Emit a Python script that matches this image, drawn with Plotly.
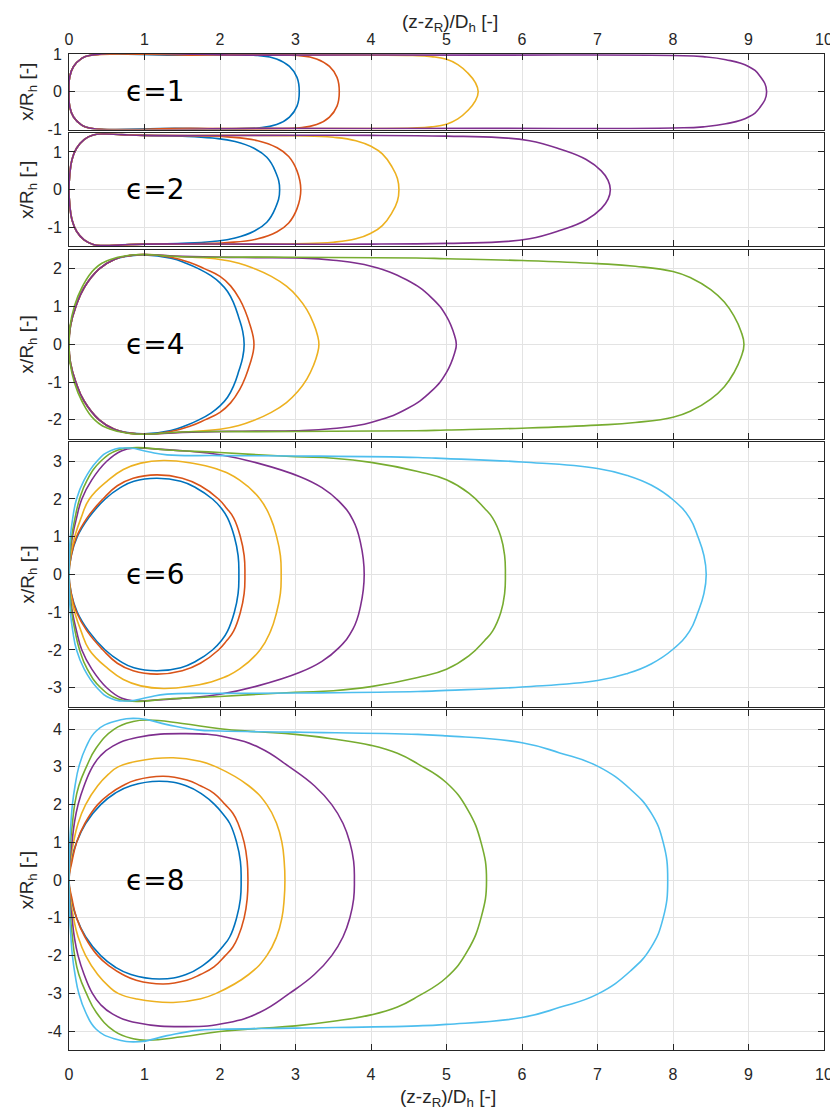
import plotly.graph_objects as go

# ---------------- data ----------------
# upper half of each bubble outline: (z-zR)/Dh , x/Rh ; lower half is the mirror image
EPS_VALUES = [1, 2, 4, 6, 8]
Y_LIMITS = [1, 1.5, 2.5, 3.5, 4.5]
X_TICKS = [0, 1, 2, 3, 4, 5, 6, 7, 8, 9, 10]
X_TICK_LABELS = ["0", "1", "2", "3", "4", "5", "6", "7", "8", "9", "10"]
Y_TICKS = [[-1, 0, 1], [-1, 0, 1], [-2, -1, 0, 1, 2],
           [-3, -2, -1, 0, 1, 2, 3], [-4, -3, -2, -1, 0, 1, 2, 3, 4]]

eps1_blue = [(0, 0), (0.01, 0.4), (0.06, 0.67), (0.16, 0.87), (0.27, 0.96), (1.4, 0.97),
             (2.5, 0.96), (2.75, 0.87), (2.92, 0.67), (3.02, 0.38), (3.05, 0)]
eps1_orange = [(0, 0), (0.01, 0.4), (0.06, 0.67), (0.16, 0.87), (0.27, 0.96), (1.6, 0.97),
               (3.03, 0.96), (3.28, 0.87), (3.45, 0.67), (3.55, 0.38), (3.58, 0)]
eps1_yellow = [(0, 0), (0.01, 0.4), (0.06, 0.67), (0.16, 0.87), (0.27, 0.96), (2.4, 0.97),
               (4.55, 0.96), (4.8, 0.93), (5.0, 0.86), (5.15, 0.72), (5.28, 0.5), (5.38, 0.25), (5.42, 0)]
eps1_purple = [(0, 0), (0.01, 0.4), (0.06, 0.67), (0.16, 0.87), (0.27, 0.96), (2.5, 0.97), (5.5, 0.97),
               (8.0, 0.96), (8.4, 0.93), (8.7, 0.85), (9.0, 0.67), (9.15, 0.42), (9.24, 0)]

eps2_blue = [(0, 0), (0.01, 0.4), (0.04, 0.8), (0.1, 1.1), (0.2, 1.33), (0.32, 1.45), (0.45, 1.48),
             (0.7, 1.46), (1.0, 1.44), (1.5, 1.42), (1.9, 1.37), (2.2, 1.28), (2.45, 1.1), (2.62, 0.86),
             (2.73, 0.5), (2.79, 0)]
eps2_orange = [(0, 0), (0.01, 0.4), (0.04, 0.8), (0.1, 1.1), (0.2, 1.33), (0.32, 1.45), (0.45, 1.48),
               (0.7, 1.46), (1.0, 1.44), (1.6, 1.43), (2.1, 1.4), (2.5, 1.3), (2.75, 1.12), (2.91, 0.88),
               (3.02, 0.5), (3.07, 0)]
eps2_yellow = [(0, 0), (0.01, 0.4), (0.04, 0.8), (0.1, 1.1), (0.2, 1.33), (0.32, 1.45), (0.45, 1.48),
               (0.7, 1.46), (1.0, 1.44), (2.0, 1.44), (3.0, 1.43), (3.5, 1.39), (3.8, 1.3), (4.0, 1.15),
               (4.15, 0.95), (4.28, 0.6), (4.35, 0.3), (4.37, 0)]
eps2_purple = [(0, 0), (0.01, 0.4), (0.04, 0.8), (0.1, 1.1), (0.2, 1.33), (0.32, 1.45), (0.45, 1.48),
               (0.7, 1.46), (1.0, 1.44), (2.5, 1.44), (4.0, 1.44), (5.0, 1.42), (5.7, 1.38), (6.1, 1.3),
               (6.5, 1.08), (6.85, 0.8), (7.05, 0.5), (7.14, 0.25), (7.17, 0)]

eps4_blue = [(0, 0), (0.02, 0.5), (0.09, 1.0), (0.2, 1.5), (0.4, 2.0), (0.6, 2.25), (0.8, 2.34),
             (1.0, 2.37), (1.35, 2.28), (1.55, 2.15), (1.72, 2.0), (1.88, 1.82), (2.0, 1.63),
             (2.1, 1.4), (2.18, 1.1), (2.25, 0.7), (2.3, 0.35), (2.32, 0)]
eps4_orange = [(0, 0), (0.02, 0.5), (0.09, 1.0), (0.2, 1.5), (0.4, 2.0), (0.6, 2.25), (0.8, 2.35),
               (1.0, 2.38), (1.35, 2.31), (1.6, 2.17), (1.8, 2.0), (2.0, 1.8), (2.14, 1.55),
               (2.26, 1.2), (2.34, 0.85), (2.4, 0.5), (2.44, 0.2), (2.45, 0)]
eps4_yellow = [(0, 0), (0.02, 0.5), (0.09, 1.0), (0.2, 1.5), (0.4, 2.0), (0.6, 2.25), (0.8, 2.35),
               (1.0, 2.38), (1.5, 2.32), (2.0, 2.25), (2.25, 2.15), (2.44, 2.02), (2.68, 1.8),
               (2.88, 1.54), (3.03, 1.25), (3.15, 0.92), (3.24, 0.55), (3.29, 0.25), (3.31, 0)]
eps4_purple = [(0, 0), (0.02, 0.5), (0.09, 1.0), (0.2, 1.5), (0.4, 2.0), (0.6, 2.25), (0.8, 2.35),
               (1.0, 2.38), (1.5, 2.33), (2.3, 2.3), (3.0, 2.29), (3.5, 2.23), (4.0, 2.07), (4.47, 1.71),
               (4.8, 1.24), (5.0, 0.74), (5.11, 0.21), (5.13, 0)]
eps4_green = [(0, 0), (0.015, 0.5), (0.07, 1.0), (0.17, 1.5), (0.34, 2.0), (0.55, 2.25), (0.8, 2.36),
              (1.0, 2.38), (1.5, 2.32), (2.5, 2.31), (4.6, 2.29), (5.0, 2.27), (6.0, 2.22), (7.0, 2.14),
              (7.5, 2.07), (8.0, 1.93), (8.24, 1.76), (8.5, 1.45), (8.68, 1.12), (8.81, 0.74),
              (8.9, 0.35), (8.94, 0)]

eps6_blue = [(0, 0), (0.03, 0.5), (0.11, 1.0), (0.26, 1.5), (0.48, 2.0), (0.68, 2.3), (0.86, 2.47),
             (1.16, 2.55), (1.48, 2.47), (1.68, 2.3), (1.9, 2.0), (2.02, 1.75), (2.1, 1.5),
             (2.19, 1.0), (2.24, 0.5), (2.25, 0)]
eps6_orange = [(0, 0), (0.03, 0.5), (0.1, 1.0), (0.24, 1.5), (0.45, 2.0), (0.64, 2.35), (0.85, 2.55),
               (1.16, 2.64), (1.5, 2.55), (1.74, 2.35), (1.98, 2.0), (2.09, 1.75), (2.18, 1.5),
               (2.27, 1.0), (2.32, 0.5), (2.33, 0)]
eps6_yellow = [(0, 0), (0.02, 0.5), (0.075, 1.0), (0.16, 1.5), (0.27, 2.0), (0.52, 2.5), (0.72, 2.78),
               (0.95, 2.95), (1.25, 3.02), (1.6, 2.96), (1.95, 2.8), (2.26, 2.5), (2.53, 2.0),
               (2.67, 1.5), (2.75, 1.0), (2.8, 0.5), (2.81, 0)]
eps6_purple = [(0, 0), (0.01, 0.5), (0.045, 1.0), (0.1, 1.5), (0.17, 2.0), (0.3, 2.5), (0.5, 3.0),
               (0.7, 3.28), (0.88, 3.35), (1.1, 3.33), (1.55, 3.27), (2.0, 3.17), (2.5, 2.95),
               (3.06, 2.59), (3.35, 2.3), (3.57, 1.95), (3.76, 1.45), (3.86, 0.85), (3.91, 0)]
eps6_green = [(0, 0), (0.01, 0.5), (0.035, 1.0), (0.08, 1.5), (0.14, 2.0), (0.24, 2.5), (0.42, 3.0),
              (0.65, 3.3), (0.9, 3.36), (1.3, 3.3), (2.0, 3.23), (3.0, 3.12), (3.5, 3.08), (4.0, 2.97),
              (4.62, 2.73), (5.0, 2.51), (5.3, 2.15), (5.5, 1.76), (5.61, 1.5), (5.72, 1.0),
              (5.77, 0.5), (5.78, 0)]
eps6_cyan = [(0, 0), (0.005, 0.5), (0.018, 1.0), (0.05, 1.5), (0.1, 2.0), (0.2, 2.5), (0.37, 3.0),
             (0.55, 3.28), (0.8, 3.35), (1.05, 3.25), (1.3, 3.17), (2.0, 3.15), (3.0, 3.14),
             (4.62, 3.1), (5.0, 3.07), (6.0, 2.98), (7.0, 2.81), (7.4, 2.62), (7.71, 2.37), (8.0, 1.98),
             (8.22, 1.5), (8.33, 1.0), (8.41, 0.5), (8.44, 0)]

eps8_blue = [(0, 0), (0.03, 0.5), (0.1, 1.0), (0.22, 1.5), (0.42, 2.0), (0.61, 2.3), (0.82, 2.5),
             (1.2, 2.62), (1.55, 2.5), (1.78, 2.25), (1.93, 2.0), (2.04, 1.75), (2.13, 1.5),
             (2.22, 1.0), (2.27, 0.5), (2.28, 0)]
eps8_orange = [(0, 0), (0.04, 0.5), (0.1, 1.0), (0.21, 1.5), (0.38, 2.0), (0.55, 2.3), (0.71, 2.5),
               (0.89, 2.65), (1.25, 2.75), (1.56, 2.65), (1.74, 2.5), (1.92, 2.3), (2.07, 2.0),
               (2.17, 1.77), (2.24, 1.5), (2.32, 1.0), (2.36, 0.5), (2.37, 0)]
eps8_yellow = [(0, 0), (0.02, 0.5), (0.06, 1.0), (0.12, 1.5), (0.22, 2.0), (0.38, 2.5), (0.52, 2.8),
               (0.65, 3.0), (0.9, 3.15), (1.38, 3.24), (1.73, 3.15), (1.95, 3.0), (2.38, 2.5),
               (2.62, 2.0), (2.75, 1.5), (2.82, 1.0), (2.85, 0.5), (2.86, 0)]
eps8_purple = [(0, 0), (0.01, 0.5), (0.04, 1.0), (0.07, 1.5), (0.12, 2.0), (0.2, 2.5), (0.31, 3.0),
               (0.42, 3.3), (0.58, 3.55), (0.9, 3.78), (1.55, 3.88), (2.1, 3.78), (2.53, 3.5),
               (2.92, 3.0), (3.25, 2.5), (3.48, 2.0), (3.63, 1.5), (3.72, 1.0), (3.77, 0.5), (3.78, 0)]
eps8_green = [(0, 0), (0.005, 0.5), (0.02, 1.0), (0.045, 1.5), (0.075, 2.0), (0.13, 2.5), (0.23, 3.0),
              (0.36, 3.5), (0.6, 4.0), (0.85, 4.2), (1.05, 4.24), (1.5, 4.15), (2.0, 4.01), (2.5, 3.93),
              (3.0, 3.86), (3.5, 3.74), (4.0, 3.57), (4.35, 3.36), (4.62, 3.08), (5.0, 2.58),
              (5.28, 1.87), (5.46, 0.98), (5.53, 0)]
eps8_cyan = [(0, 0), (0.003, 0.5), (0.01, 1.0), (0.025, 1.5), (0.045, 2.0), (0.08, 2.5), (0.13, 3.0),
             (0.22, 3.5), (0.36, 3.95), (0.6, 4.2), (0.93, 4.28), (1.3, 4.12), (1.7, 3.98), (2.0, 3.95),
             (3.0, 3.92), (4.62, 3.86), (5.0, 3.82), (6.0, 3.64), (6.5, 3.37), (7.0, 3.02),
             (7.44, 2.4), (7.71, 1.78), (7.87, 1.0), (7.93, 0)]

PANELS = [
    [eps1_blue, eps1_orange, eps1_yellow, eps1_purple],
    [eps2_blue, eps2_orange, eps2_yellow, eps2_purple],
    [eps4_blue, eps4_orange, eps4_yellow, eps4_purple, eps4_green],
    [eps6_blue, eps6_orange, eps6_yellow, eps6_purple, eps6_green, eps6_cyan],
    [eps8_blue, eps8_orange, eps8_yellow, eps8_purple, eps8_green, eps8_cyan],
]

# ---------------- style ----------------
COLORS = ["#0072BD", "#D95319", "#EDB120", "#7E2F8E", "#77AC30", "#4DBEEE"]
AXIS_COLOR = "#262626"
GRID_COLOR = "#e3e3e3"
TICK_FONT = dict(family="Liberation Sans, Arial, sans-serif", size=16, color=AXIS_COLOR)
PAGE_OFF = 8                    # the page body places the figure 8 px from the top-left corner
W, H = 838 - PAGE_OFF, 1116 - PAGE_OFF
ML = 69 - PAGE_OFF              # plot area in page pixels: x 69..824, y 54..1050
MT = 54 - PAGE_OFF
MR = W - (824 - PAGE_OFF)
MB = H - (1050 - PAGE_OFF)
PLOT_H = H - MT - MB
PLOT_W = W - ML - MR
PX_PER_UNIT = 37.75

heights = [2 * L * PX_PER_UNIT for L in Y_LIMITS]
gap = (PLOT_H - sum(heights)) / (len(heights) - 1)

fig = go.Figure()
domains = []
top = 0.0
for h in heights:
    t_frac = 1 - top / PLOT_H
    b_frac = 1 - (top + h) / PLOT_H
    domains.append([max(0.0, b_frac), min(1.0, t_frac)])
    top += h + gap


def closed(points):
    xs = [p[0] for p in points]
    ys = [p[1] for p in points]
    X = xs + xs[-2::-1]
    Y = ys + [-y for y in ys[-2::-1]]
    return X, Y


for i, curves in enumerate(PANELS):
    idx = "" if i == 0 else str(i + 1)
    for c, pts in enumerate(curves):
        X, Y = closed(pts)
        fig.add_trace(go.Scatter(
            x=X, y=Y, mode="lines", xaxis="x" + idx, yaxis="y" + idx,
            line=dict(color=COLORS[c], width=1.6, shape="spline", smoothing=1.3, simplify=False),
            showlegend=False, hoverinfo="skip"))

layout = dict(width=W, height=H, margin=dict(l=ML, r=MR, t=MT, b=MB, autoexpand=False),
              paper_bgcolor="white", plot_bgcolor="white", showlegend=False)

common = dict(showgrid=True, gridcolor=GRID_COLOR, gridwidth=1, zeroline=False,
              showline=True, linecolor=AXIS_COLOR, linewidth=1, mirror="ticks",
              ticks="inside", ticklen=6, tickwidth=1, tickcolor=AXIS_COLOR,
              tickfont=TICK_FONT, automargin=False)

for i, L in enumerate(Y_LIMITS):
    idx = "" if i == 0 else str(i + 1)
    xa = dict(common, domain=[0, 1], range=[0, 10], anchor="y" + idx,
              tickvals=X_TICKS, ticktext=X_TICK_LABELS,
              showticklabels=(i == 0 or i == len(Y_LIMITS) - 1))
    if i == 0:
        xa["side"] = "top"
        xa["ticklabelstandoff"] = 2
    if i == len(Y_LIMITS) - 1:
        xa["ticklabelstandoff"] = 10
    if i > 0:
        xa["matches"] = "x"
    ya = dict(common, domain=domains[i], range=[-L, L], anchor="x" + idx,
              tickvals=Y_TICKS[i], ticktext=[str(v) for v in Y_TICKS[i]],
              ticklabelstandoff=3)
    layout["xaxis" + idx] = xa
    layout["yaxis" + idx] = ya


def paper_y(page_px):
    return (1050 - page_px) / PLOT_H


def paper_x(page_px):
    return (page_px - 69) / PLOT_W


annotations = []
title_font = dict(family="Liberation Sans, Arial, sans-serif", size=19, color=AXIS_COLOR)
xlabel = "(z-z<sub>R</sub>)/D<sub>h</sub> [-]"
annotations.append(dict(text=xlabel, xref="paper", yref="paper", x=paper_x(450), y=paper_y(9),
                        xanchor="center", yanchor="top", showarrow=False, font=title_font))
annotations.append(dict(text=xlabel, xref="paper", yref="paper", x=paper_x(448), y=paper_y(1098),
                        xanchor="center", yanchor="middle", showarrow=False, font=title_font))
for i, eps in enumerate(EPS_VALUES):
    idx = "" if i == 0 else str(i + 1)
    annotations.append(dict(text="x/R<sub>h</sub> [-]", xref="paper", yref="paper",
                            x=paper_x(28), y=sum(domains[i]) / 2,
                            xanchor="center", yanchor="middle", textangle=-90,
                            showarrow=False, font=title_font))
    annotations.append(dict(text="ϵ=" + str(eps), xref="x" + idx, yref="y" + idx,
                            x=1.14, y=0, xanchor="center", yanchor="middle", showarrow=False,
                            font=dict(family="DejaVu Sans", size=28, color="black")))
layout["annotations"] = annotations

fig.update_layout(**layout)
fig.write_html("out.html")
